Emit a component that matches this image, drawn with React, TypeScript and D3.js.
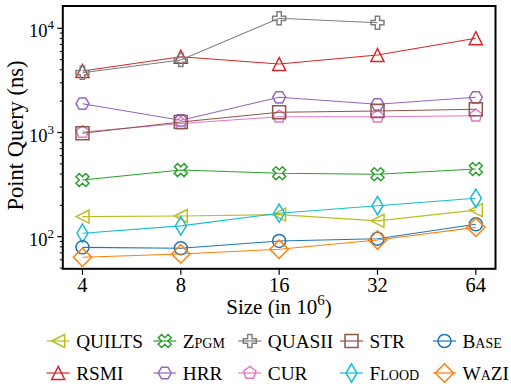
import React from "react";
import * as d3 from "d3";

const sizes = [4, 8, 16, 32, 64];
const seriesNames = ["QUILTS", "RSMI", "Zpgm", "HRR", "QUASII", "CUR", "STR", "Flood", "Base", "WaZI"];
const quilts = [156, 158, 163, 142, 180];
const rsmi = [3890, 5335, 4540, 5545, 8020];
const zpgm = [350, 436, 406, 397, 446];
const hrr = [1890, 1310, 2177, 1866, 2177];
const quasii = [3750, 4965, 12470, 11320];
const cur = [1010, 1220, 1418, 1418, 1449];
const str = [982, 1260, 1563, 1608, 1670];
const flood = [108, 127, 168, 198.5, 234];
const base = [79, 77.4, 91, 95.7, 131.5];
const wazi = [63.4, 68.2, 75.7, 93, 123];
const yTickExps = [2, 3, 4];

const seriesValues = [quilts, rsmi, zpgm, hrr, quasii, cur, str, flood, base, wazi];
const colors = ["#bcbd22", "#d62728", "#2ca02c", "#9467bd", "#7f7f7f", "#e377c2", "#8c564b", "#17becf", "#1f77b4", "#ff7f0e"];
const markers = ["tleft", "tup", "X", "H", "P", "pent", "sq", "d", "circ", "D"];

const MS = 13;

function markerPath(type: string, ms: number): string {
  const h = ms / 2;
  const poly = (pts: number[][]) => "M" + pts.map((p) => p[0].toFixed(2) + "," + p[1].toFixed(2)).join("L") + "Z";
  const reg = (n: number, r: number, startDeg: number) => {
    const pts: number[][] = [];
    for (let i = 0; i < n; i++) {
      const a = ((startDeg + (360 / n) * i) * Math.PI) / 180;
      pts.push([r * Math.cos(a), -r * Math.sin(a)]);
    }
    return poly(pts);
  };
  switch (type) {
    case "tleft":
      return poly([[-h, 0], [h, -h], [h, h]]);
    case "tup":
      return poly([[0, -h], [-h, h], [h, h]]);
    case "sq":
      return poly([[-h, -h], [h, -h], [h, h], [-h, h]]);
    case "D": {
      const r = ms * 0.707;
      return poly([[0, -r], [r, 0], [0, r], [-r, 0]]);
    }
    case "d": {
      const r = ms * 0.707;
      const w = r * 0.6;
      return poly([[0, -r], [w, 0], [0, r], [-w, 0]]);
    }
    case "H":
      return reg(6, h, 0);
    case "pent":
      return reg(5, h, 90);
    case "P": {
      const pts = [[-1, -3], [1, -3], [1, -1], [3, -1], [3, 1], [1, 1], [1, 3], [-1, 3], [-1, 1], [-3, 1], [-3, -1], [-1, -1]];
      return poly(pts.map((p) => [(p[0] / 6) * ms, (p[1] / 6) * ms]));
    }
    case "X": {
      const pts = [[-1, -2], [0, -1], [1, -2], [2, -1], [1, 0], [2, 1], [1, 2], [0, 1], [-1, 2], [-2, 1], [-1, 0], [-2, -1]];
      return poly(pts.map((p) => [(p[0] / 4) * ms, (p[1] / 4) * ms]));
    }
    default:
      return "";
  }
}

function Marker({ type, x, y, color }: { type: string; x: number; y: number; color: string }) {
  if (type === "circ") {
    return <circle cx={x} cy={y} r={MS / 2} fill="none" stroke={color} strokeWidth={1.5} />;
  }
  return <path d={markerPath(type, MS)} transform={`translate(${x},${y})`} fill="none" stroke={color} strokeWidth={1.5} strokeLinejoin="miter" />;
}

const FONT = "'Liberation Serif'";

export default function App() {
  const left = 62.8, right = 495.5, top = 6, bottom = 268.8;
  const x = d3.scaleLog().base(2).domain([Math.pow(2, 1.8), Math.pow(2, 6.2)]).range([left, right]);
  const y = d3.scaleLog().domain([49.2, 16370]).range([bottom, top]);

  const line = d3
    .line<[number, number]>()
    .x((d) => x(d[0]))
    .y((d) => y(d[1]));

  const minorTicks: number[] = [];
  for (let e = 1; e <= 4; e++) {
    for (let m = 2; m <= 9; m++) {
      const v = m * Math.pow(10, e);
      if (v >= y.domain()[0] && v <= y.domain()[1]) minorTicks.push(v);
    }
  }

  const legendCols = [46.7, 153.3, 238.3, 340, 433];
  const legendRows = [341, 373];
  const handleLen = 23;
  const tStyle = { fontFamily: FONT } as React.CSSProperties;

  return (
    <svg width={511} height={387} style={{ position: "absolute", left: 0, top: 0, background: "#fff" }}>
      <rect x={0} y={0} width={511} height={387} fill="#fff" />
      {seriesValues.map((vals, i) => {
        const pts = vals.map((v, j) => [sizes[j], v] as [number, number]);
        return (
          <g key={seriesNames[i]}>
            <path d={line(pts) || ""} fill="none" stroke={colors[i]} strokeWidth={1.1} />
            {pts.map((p, j) => (
              <Marker key={j} type={markers[i]} x={x(p[0])} y={y(p[1])} color={colors[i]} />
            ))}
          </g>
        );
      })}
      <rect x={left} y={top} width={right - left} height={bottom - top} fill="none" stroke="#000" strokeWidth={2} />
      {minorTicks.map((v) => (
        <line key={v} x1={left - 3} x2={left} y1={y(v)} y2={y(v)} stroke="#000" strokeWidth={1} />
      ))}
      {yTickExps.map((e) => {
        const yy = y(Math.pow(10, e));
        return (
          <g key={e}>
            <line x1={left - 5.5} x2={left} y1={yy} y2={yy} stroke="#000" strokeWidth={1.2} />
            <text x={54} y={yy + 9} textAnchor="end" fontSize={18.5} style={tStyle}>
              10<tspan fontSize={13} dy={-8}>{e}</tspan>
            </text>
          </g>
        );
      })}
      {sizes.map((s) => (
        <g key={s}>
          <line x1={x(s)} x2={x(s)} y1={bottom} y2={bottom + 6} stroke="#000" strokeWidth={1.2} />
          <text x={x(s)} y={291.5} textAnchor="middle" fontSize={20.5} style={tStyle}>
            {s}
          </text>
        </g>
      ))}
      <text x={279} y={314} textAnchor="middle" fontSize={21} style={tStyle}>
        Size (in 10<tspan fontSize={15} dy={-9}>6</tspan>
        <tspan dy={9}>)</tspan>
      </text>
      <text transform={`translate(23,135.5) rotate(-90)`} textAnchor="middle" fontSize={22.5} style={tStyle}>
        Point Query (ns)
      </text>
      {seriesNames.map((name, i) => {
        const col = Math.floor(i / 2);
        const row = i % 2;
        const x0 = legendCols[col];
        const yy = legendRows[row];
        return (
          <g key={name}>
            <line x1={x0} x2={x0 + handleLen} y1={yy} y2={yy} stroke={colors[i]} strokeWidth={1.2} />
            <Marker type={markers[i]} x={x0 + handleLen / 2} y={yy} color={colors[i]} />
            <text x={x0 + 29.5} y={yy + 6.5} fontSize={19.3} style={{ fontFamily: FONT, fontVariant: "small-caps" }}>
              {name}
            </text>
          </g>
        );
      })}
    </svg>
  );
}
